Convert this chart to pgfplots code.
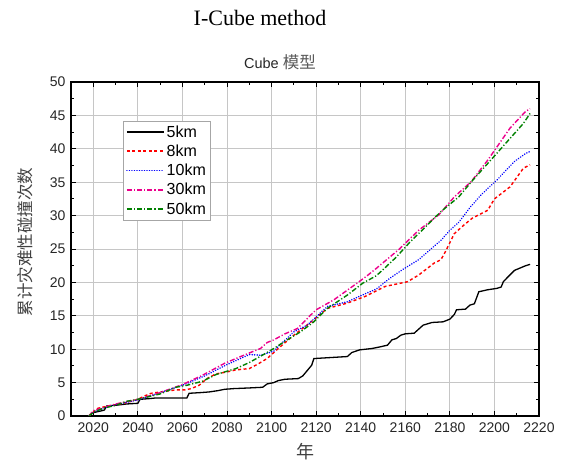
\documentclass[border=0pt]{standalone}
\usepackage{fontspec}
\setmainfont{Liberation Sans}
\newfontfamily\serifrm{Liberation Serif}
\newfontfamily\cjk{Noto Sans CJK SC}
\usepackage{pgfplots}
\pgfplotsset{compat=1.18}
\definecolor{dgreen}{RGB}{0,128,0}
\begin{document}
\begin{tikzpicture}
\useasboundingbox (-71bp,-49bp) rectangle (495bp,416bp);
\begin{axis}[
  at={(0,0)}, anchor=south west,
  scale only axis, width=468bp, height=334bp,
  xmin=2010, xmax=2220, ymin=0, ymax=50,
  xtick={2020,2040,...,2220}, ytick={0,5,...,50},
  minor x tick num=1, minor y tick num=1,
  tick align=inside,
  major tick length=5bp, minor tick length=3bp,
  every tick/.style={black, line width=0.8bp},
  axis line style={black, line width=1.2bp},
  grid=major,
  major grid style={gray!45, line width=0.8bp},
  /pgf/number format/assume math mode=true,
  /pgf/number format/1000 sep={},
  ticklabel style={font=\fontsize{14bp}{16bp}\selectfont, text=black!85},
  xticklabel style={yshift=-3bp},
  yticklabel style={xshift=-2bp},
  xlabel={\cjk 年},
  xlabel style={at={(axis description cs:0.5,-0.108)}, anchor=center, font=\fontsize{18bp}{20bp}\selectfont, text=black!75},
  ylabel={\cjk 累计灾难性碰撞次数},
  ylabel style={at={(axis description cs:-0.0983,0.521)}, anchor=center, rotate=0, font=\fontsize{16.5bp}{18bp}\selectfont, text=black!75},
  legend style={at={(0.112,0.884)}, anchor=north west, draw=gray!70,
    font=\fontsize{16bp}{18bp}\selectfont, row sep=2.2bp, inner sep=2.5bp},
  legend cell align=left,
  every axis legend/.append style={/tikz/every even column/.append style={column sep=2bp}},
  legend image code/.code={\draw[#1, line width=1.6bp] (0bp,0bp) -- (37bp,0bp);},
]
\addplot[black, line width=1.3bp] coordinates {
(2018,0) (2020,0.5) (2024,0.8) (2025,0.9) (2026,1.5) (2030,1.6) (2035,1.8) (2040,1.9) (2041,2.5) (2045,2.6) (2048,2.7) (2062,2.7) (2063,3.4) (2068,3.5) (2072,3.6) (2076,3.8) (2079,4.0) (2083,4.1) (2090,4.2) (2096,4.3) (2098,4.8) (2101,5.0) (2103,5.3) (2106,5.5) (2112,5.6) (2114,6.0) (2116,6.8) (2118,7.6) (2119,8.6) (2134,8.9) (2136,9.5) (2139.5,9.9) (2145,10.1) (2148,10.3) (2152,10.6) (2154,11.4) (2156,11.6) (2158,12.1) (2160,12.3) (2164,12.4) (2166,13.0) (2168,13.6) (2172,14.0) (2177,14.1) (2180,14.5) (2182,15.2) (2183,15.9) (2187,16.0) (2189,16.6) (2191,16.8) (2193,18.6) (2197,18.9) (2201,19.1) (2203,19.3) (2204,20.1) (2206,20.8) (2209,21.8) (2214,22.5) (2216,22.7)
};
\addlegendentry{5km}
\addplot[red, line width=1.4bp, dash pattern=on 3bp off 2.5bp] coordinates {
(2018,0) (2020,0.6) (2022,1.15) (2024,1.3) (2028,1.6) (2032,1.8) (2036,2.1) (2040,2.5) (2043,3.0) (2046,3.4) (2050,3.6) (2057,3.9) (2061,3.9) (2064,4.1) (2067.5,4.6) (2071,5.6) (2075,6.3) (2080,6.6) (2084,6.9) (2090,7.1) (2094,7.8) (2098,8.6) (2101,9.5) (2104,10.4) (2110,12.1) (2117,13.9) (2125,16.1) (2134,16.9) (2142,17.9) (2151,19.4) (2161,20.1) (2166,21.1) (2173,22.9) (2176,23.4) (2178,24.6) (2182,27.3) (2186,28.5) (2190,29.6) (2197,30.8) (2200,32.5) (2207,34.3) (2213,37.1) (2216,37.6)
};
\addlegendentry{8km}
\addplot[blue, line width=1.7bp, line cap=round, dash pattern=on 0.01bp off 2.5bp] coordinates {
(2018,0) (2020,0.6) (2025,1.2) (2030,1.7) (2040,2.4) (2050,3.5) (2060,4.6) (2070,6.0) (2080,7.7) (2086,8.6) (2090,9.2) (2095,9.1) (2101,9.7) (2103,10.4) (2110,12.6) (2116,13.6) (2125,16.4) (2134,17.1) (2142,18.3) (2147,19.0) (2153,20.6) (2158.7,21.9) (2166,23.4) (2176,26.3) (2180,27.8) (2184,29.0) (2189,31.2) (2194,33.1) (2201,35.3) (2209,38.1) (2214,39.3) (2216,39.6)
};
\addlegendentry{10km}
\addplot[magenta, line width=1.4bp, dash pattern=on 5bp off 2bp on 1.2bp off 2bp] coordinates {
(2018,0) (2020,0.8) (2025,1.3) (2030,1.8) (2040,2.5) (2050,3.5) (2060,4.7) (2069,6.1) (2079,7.9) (2089,9.3) (2095,10.1) (2098,11.0) (2101,11.4) (2106,12.3) (2111.6,13.1) (2117.5,15.1) (2120,15.9) (2128,17.4) (2138,19.8) (2142.5,20.9) (2147,22.1) (2157,24.9) (2166,27.8) (2175,30.1) (2182,32.8) (2189.6,35.1) (2197,38.3) (2207,43.1) (2214,45.6) (2216,46.0)
};
\addlegendentry{30km}
\addplot[dgreen, line width=1.4bp, dash pattern=on 5bp off 2bp on 1.2bp off 2bp] coordinates {
(2018,0) (2020.5,0.65) (2025,1.2) (2030,1.6) (2035,2.2) (2040,2.5) (2050,3.3) (2057,4.3) (2062,4.6) (2069,5.2) (2075,6.2) (2084,7.1) (2090,8.0) (2098,9.5) (2101,10.1) (2107,11.4) (2113,12.6) (2119,14.1) (2125,16.1) (2134,18.1) (2141,19.9) (2147,21.0) (2150,21.9) (2156,23.8) (2162,26.0) (2167.5,27.8) (2176,30.6) (2184,32.8) (2190,35.2) (2197,37.8) (2205,40.8) (2213,43.8) (2216,45.3)
};
\addlegendentry{50km}
\end{axis}
\node[font=\fontsize{14.5bp}{16bp}\selectfont, text=black!85] at (209bp,354bp) {Cube {\cjk\fontsize{16.5bp}{18bp}\selectfont\color{black!65}模型}};
\node[font=\serifrm\fontsize{22bp}{24bp}\selectfont] at (189bp,398bp) {I-Cube method};
\end{tikzpicture}
\end{document}
